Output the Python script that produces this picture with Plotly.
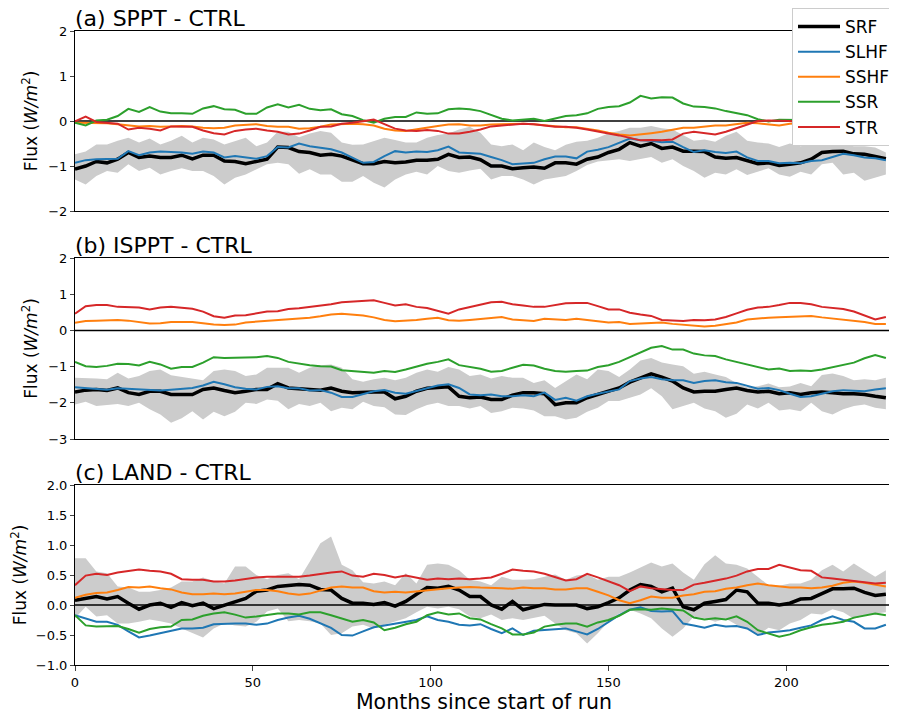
import plotly.graph_objects as go
from plotly.subplots import make_subplots

# months since start of run (sampled every 3 months)
months = list(range(0, 229, 3))
XMAX = 230

# ---- (a) SPPT - CTRL ----
srf_a = [-1.07, -1.00, -0.90, -0.93, -0.85, -0.70, -0.81, -0.78, -0.81, -0.81, -0.76, -0.84, -0.76, -0.76, -0.89, -0.90, -0.95, -0.89, -0.85, -0.58,
         -0.59, -0.68, -0.70, -0.76, -0.74, -0.78, -0.87, -0.95, -0.95, -0.90, -0.93, -0.91, -0.87, -0.87, -0.85, -0.74, -0.81, -0.80, -0.86,
         -1.00, -1.00, -1.06, -1.04, -1.02, -1.05, -0.93, -0.93, -0.96, -0.85, -0.80, -0.70, -0.63, -0.48, -0.56, -0.50, -0.61, -0.58, -0.67,
         -0.67, -0.68, -0.80, -0.83, -0.81, -0.87, -0.95, -0.93, -0.99, -0.96, -0.93, -0.85, -0.70, -0.68, -0.67, -0.73, -0.74, -0.79, -0.84]
slhf_a = [-0.93, -0.87, -0.85, -0.85, -0.84, -0.67, -0.76, -0.70, -0.68, -0.69, -0.70, -0.73, -0.68, -0.70, -0.81, -0.78, -0.81, -0.84, -0.78, -0.58,
          -0.59, -0.50, -0.56, -0.59, -0.63, -0.70, -0.81, -0.93, -0.91, -0.78, -0.67, -0.70, -0.68, -0.69, -0.65, -0.57, -0.70, -0.71, -0.73,
          -0.80, -0.87, -0.96, -0.95, -0.93, -0.85, -0.79, -0.79, -0.83, -0.68, -0.64, -0.58, -0.48, -0.39, -0.43, -0.44, -0.47, -0.46, -0.58,
          -0.69, -0.65, -0.69, -0.71, -0.68, -0.81, -0.89, -0.89, -0.94, -0.93, -0.94, -0.89, -0.87, -0.80, -0.73, -0.76, -0.81, -0.83, -0.87]
sshf_a = [-0.04, -0.04, -0.05, -0.05, -0.07, -0.10, -0.12, -0.11, -0.13, -0.12, -0.11, -0.12, -0.15, -0.16, -0.15, -0.10, -0.08, -0.07, -0.11, -0.13,
          -0.13, -0.17, -0.16, -0.13, -0.08, -0.07, -0.06, -0.07, -0.10, -0.17, -0.21, -0.22, -0.18, -0.15, -0.11, -0.08, -0.07, -0.10, -0.10,
          -0.08, -0.07, -0.06, -0.06, -0.07, -0.09, -0.12, -0.14, -0.14, -0.17, -0.21, -0.26, -0.30, -0.32, -0.30, -0.27, -0.24, -0.20, -0.15,
          -0.15, -0.13, -0.10, -0.10, -0.07, -0.04, -0.05, -0.07, -0.10, -0.06, -0.05, -0.04, -0.06, -0.05, -0.04, -0.05, -0.06, -0.05, -0.04]
ssr_a = [-0.04, -0.10, 0.01, 0.03, 0.11, 0.27, 0.20, 0.31, 0.21, 0.17, 0.17, 0.16, 0.28, 0.33, 0.26, 0.25, 0.16, 0.16, 0.30, 0.37,
         0.30, 0.36, 0.27, 0.24, 0.26, 0.15, 0.11, 0.02, -0.04, 0.05, 0.09, 0.09, 0.19, 0.16, 0.17, 0.26, 0.28, 0.26, 0.22,
         0.13, 0.05, 0.01, 0.03, 0.05, 0.00, 0.06, 0.11, 0.13, 0.17, 0.27, 0.31, 0.33, 0.41, 0.56, 0.50, 0.53, 0.52, 0.39,
         0.32, 0.31, 0.28, 0.22, 0.18, 0.13, 0.04, -0.01, 0.03, 0.03, 0.02, 0.00, -0.02, 0.00, 0.02, 0.03, 0.01, 0.00, 0.01]
str_a = [-0.01, 0.10, -0.02, -0.04, -0.06, -0.19, -0.15, -0.17, -0.21, -0.12, -0.13, -0.13, -0.21, -0.27, -0.30, -0.22, -0.19, -0.17, -0.21, -0.24,
         -0.30, -0.28, -0.21, -0.13, -0.12, -0.06, -0.04, -0.01, 0.03, -0.07, -0.17, -0.21, -0.22, -0.20, -0.22, -0.28, -0.28, -0.24, -0.19,
         -0.12, -0.10, -0.07, -0.06, -0.07, -0.10, -0.13, -0.13, -0.15, -0.19, -0.24, -0.28, -0.32, -0.37, -0.43, -0.42, -0.43, -0.41, -0.28,
         -0.24, -0.27, -0.30, -0.24, -0.16, -0.07, 0.00, 0.01, 0.01, 0.00, -0.02, -0.03, -0.01, -0.02, -0.03, -0.02, -0.04, -0.03, -0.02]
hi_a = [-0.74, -0.68, -0.52, -0.52, -0.44, -0.37, -0.48, -0.39, -0.52, -0.44, -0.33, -0.48, -0.37, -0.41, -0.52, -0.44, -0.37, -0.56, -0.48, -0.24,
        -0.24, -0.36, -0.28, -0.22, -0.26, -0.48, -0.53, -0.52, -0.44, -0.37, -0.42, -0.48, -0.48, -0.37, -0.31, -0.28, -0.19, -0.13, -0.26,
        -0.52, -0.56, -0.52, -0.65, -0.48, -0.58, -0.65, -0.53, -0.46, -0.44, -0.37, -0.27, -0.22, -0.15, -0.15, -0.11, -0.16, -0.19, -0.31,
        -0.44, -0.41, -0.46, -0.33, -0.24, -0.44, -0.48, -0.50, -0.58, -0.50, -0.56, -0.52, -0.48, -0.48, -0.52, -0.56, -0.56, -0.59, -0.70]
lo_a = [-1.30, -1.41, -1.22, -1.11, -1.15, -0.96, -1.11, -1.04, -1.19, -1.11, -1.05, -1.11, -1.11, -1.22, -1.41, -1.26, -1.19, -1.07, -0.96, -0.93,
        -0.96, -1.17, -1.07, -1.19, -1.19, -1.35, -1.35, -1.22, -1.37, -1.48, -1.30, -1.19, -1.13, -1.19, -1.00, -1.11, -1.15, -1.10, -1.06,
        -1.30, -1.22, -1.22, -1.30, -1.41, -1.30, -1.26, -1.22, -1.11, -0.98, -0.90, -0.87, -0.85, -0.89, -0.85, -0.80, -0.93, -0.85, -1.00,
        -1.11, -1.26, -1.15, -1.19, -1.07, -1.20, -1.13, -1.05, -1.19, -1.24, -1.13, -1.19, -0.96, -0.93, -1.19, -1.15, -1.33, -1.26, -1.19]

# ---- (b) ISPPT - CTRL ----
srf_b = [-1.70, -1.65, -1.63, -1.66, -1.59, -1.72, -1.77, -1.68, -1.68, -1.77, -1.77, -1.77, -1.63, -1.59, -1.66, -1.72, -1.68, -1.63, -1.63, -1.47,
         -1.59, -1.61, -1.63, -1.65, -1.59, -1.68, -1.72, -1.70, -1.70, -1.70, -1.89, -1.82, -1.68, -1.60, -1.57, -1.56, -1.82, -1.86, -1.84,
         -1.91, -1.91, -1.79, -1.72, -1.72, -1.75, -2.05, -2.00, -2.00, -1.86, -1.77, -1.68, -1.59, -1.43, -1.31, -1.20, -1.29, -1.40, -1.59,
         -1.70, -1.68, -1.68, -1.63, -1.59, -1.66, -1.70, -1.68, -1.75, -1.72, -1.77, -1.72, -1.70, -1.72, -1.75, -1.75, -1.77, -1.82, -1.86]
slhf_b = [-1.57, -1.59, -1.61, -1.64, -1.60, -1.61, -1.63, -1.63, -1.66, -1.64, -1.61, -1.59, -1.52, -1.42, -1.49, -1.57, -1.61, -1.63, -1.56, -1.54,
          -1.60, -1.60, -1.66, -1.65, -1.72, -1.84, -1.84, -1.77, -1.68, -1.65, -1.72, -1.75, -1.68, -1.59, -1.52, -1.49, -1.59, -1.77, -1.79,
          -1.77, -1.82, -1.82, -1.79, -1.82, -1.72, -1.92, -1.86, -1.94, -1.82, -1.75, -1.70, -1.63, -1.40, -1.33, -1.29, -1.35, -1.38, -1.38,
          -1.45, -1.40, -1.38, -1.43, -1.45, -1.54, -1.61, -1.59, -1.65, -1.75, -1.84, -1.82, -1.75, -1.68, -1.65, -1.66, -1.68, -1.63, -1.60]
sshf_b = [0.21, 0.26, 0.27, 0.28, 0.29, 0.27, 0.22, 0.19, 0.20, 0.23, 0.23, 0.23, 0.20, 0.16, 0.15, 0.16, 0.22, 0.24, 0.26, 0.28,
          0.29, 0.32, 0.35, 0.39, 0.44, 0.46, 0.44, 0.41, 0.36, 0.29, 0.25, 0.26, 0.29, 0.32, 0.35, 0.28, 0.27, 0.29, 0.32,
          0.35, 0.37, 0.30, 0.29, 0.26, 0.32, 0.30, 0.29, 0.32, 0.29, 0.24, 0.22, 0.23, 0.18, 0.19, 0.21, 0.22, 0.18, 0.15,
          0.14, 0.11, 0.13, 0.17, 0.22, 0.30, 0.33, 0.35, 0.36, 0.38, 0.40, 0.40, 0.36, 0.33, 0.29, 0.26, 0.23, 0.18, 0.18]
ssr_b = [-0.87, -0.99, -1.01, -0.98, -0.92, -0.93, -0.97, -0.87, -0.94, -1.06, -1.01, -1.01, -0.89, -0.74, -0.76, -0.76, -0.76, -0.74, -0.71, -0.76,
         -0.87, -0.92, -0.96, -0.99, -1.00, -1.10, -1.12, -1.16, -1.17, -1.12, -1.15, -1.08, -0.99, -0.92, -0.87, -0.80, -0.96, -1.00, -1.06,
         -1.14, -1.12, -1.03, -0.95, -0.97, -1.06, -1.12, -1.14, -1.12, -1.11, -1.01, -0.96, -0.87, -0.74, -0.60, -0.48, -0.43, -0.53, -0.53,
         -0.64, -0.69, -0.71, -0.80, -0.87, -0.94, -1.01, -1.08, -1.05, -1.12, -1.11, -1.12, -1.08, -1.01, -0.94, -0.89, -0.77, -0.68, -0.76]
str_b = [0.46, 0.67, 0.70, 0.70, 0.65, 0.65, 0.63, 0.58, 0.63, 0.65, 0.63, 0.60, 0.52, 0.39, 0.35, 0.41, 0.42, 0.46, 0.52, 0.53,
         0.59, 0.61, 0.65, 0.67, 0.72, 0.78, 0.80, 0.81, 0.83, 0.76, 0.69, 0.72, 0.65, 0.62, 0.55, 0.46, 0.58, 0.65, 0.72,
         0.78, 0.79, 0.72, 0.69, 0.65, 0.65, 0.69, 0.75, 0.76, 0.76, 0.67, 0.58, 0.58, 0.49, 0.44, 0.40, 0.29, 0.28, 0.26,
         0.29, 0.28, 0.30, 0.37, 0.47, 0.57, 0.63, 0.65, 0.70, 0.76, 0.76, 0.72, 0.65, 0.61, 0.59, 0.52, 0.41, 0.30, 0.37]
hi_b = [-1.31, -1.31, -1.33, -1.35, -1.17, -1.33, -1.26, -1.12, -1.08, -1.24, -1.29, -1.35, -1.38, -1.12, -1.08, -1.12, -1.26, -1.22, -1.03, -1.03,
        -1.03, -1.17, -1.03, -0.96, -0.94, -1.03, -1.35, -1.42, -1.35, -1.31, -1.38, -1.31, -1.17, -1.08, -1.14, -1.01, -1.08, -1.26, -1.22,
        -1.33, -1.26, -1.31, -1.31, -1.45, -1.38, -1.59, -1.40, -1.22, -1.35, -1.08, -1.12, -1.29, -1.08, -0.83, -0.76, -0.89, -0.94, -0.99,
        -1.20, -1.14, -1.22, -1.29, -1.45, -1.57, -1.54, -1.47, -1.57, -1.55, -1.45, -1.54, -1.23, -1.19, -1.26, -1.38, -1.35, -1.38, -1.31]
lo_b = [-2.05, -1.97, -2.09, -2.05, -2.03, -2.09, -2.00, -2.18, -2.32, -2.55, -2.43, -2.23, -2.46, -2.25, -2.37, -2.25, -2.00, -2.03, -1.91, -1.94,
        -2.18, -2.03, -2.09, -2.00, -2.23, -2.14, -2.18, -1.97, -2.09, -2.12, -2.32, -2.34, -2.18, -2.06, -2.00, -2.09, -2.09, -2.16, -2.09,
        -2.28, -2.23, -2.14, -2.16, -2.21, -2.37, -2.37, -2.46, -2.41, -2.25, -2.14, -1.95, -1.95, -1.86, -1.77, -1.60, -1.82, -2.18, -2.09,
        -2.00, -2.16, -2.23, -2.41, -2.30, -2.05, -2.16, -2.00, -2.21, -2.18, -2.23, -2.00, -2.23, -2.32, -2.18, -2.09, -2.05, -2.14, -2.18]

# ---- (c) LAND - CTRL ----
srf_c = [0.08, 0.11, 0.14, 0.10, 0.14, 0.03, -0.07, 0.00, 0.03, -0.04, 0.04, -0.01, 0.03, -0.06, 0.00, 0.06, 0.11, 0.23, 0.25, 0.31,
         0.33, 0.34, 0.33, 0.26, 0.25, 0.11, 0.03, 0.03, 0.01, 0.04, -0.02, 0.06, 0.18, 0.29, 0.28, 0.31, 0.25, 0.14, 0.14,
         0.00, -0.07, 0.06, -0.08, -0.03, 0.01, 0.00, 0.00, 0.00, -0.06, -0.03, 0.04, 0.12, 0.25, 0.34, 0.31, 0.22, 0.28, -0.03,
         -0.08, 0.03, 0.06, 0.09, 0.25, 0.22, 0.03, 0.03, 0.00, 0.03, 0.10, 0.11, 0.19, 0.27, 0.27, 0.28, 0.21, 0.16, 0.18]
slhf_c = [-0.17, -0.23, -0.28, -0.28, -0.33, -0.44, -0.54, -0.51, -0.47, -0.43, -0.39, -0.39, -0.38, -0.32, -0.31, -0.31, -0.31, -0.33, -0.31, -0.25,
          -0.21, -0.18, -0.23, -0.31, -0.38, -0.50, -0.51, -0.44, -0.37, -0.34, -0.31, -0.28, -0.25, -0.19, -0.25, -0.28, -0.33, -0.34, -0.32,
          -0.40, -0.47, -0.39, -0.50, -0.43, -0.42, -0.40, -0.39, -0.44, -0.49, -0.40, -0.28, -0.17, -0.08, -0.04, -0.10, -0.11, -0.10, -0.31,
          -0.34, -0.38, -0.33, -0.36, -0.35, -0.39, -0.50, -0.46, -0.44, -0.42, -0.38, -0.34, -0.25, -0.19, -0.25, -0.28, -0.39, -0.39, -0.33]
sshf_c = [0.12, 0.17, 0.20, 0.21, 0.25, 0.30, 0.29, 0.31, 0.28, 0.26, 0.21, 0.18, 0.18, 0.19, 0.18, 0.19, 0.22, 0.25, 0.25, 0.23,
          0.19, 0.17, 0.19, 0.24, 0.29, 0.31, 0.29, 0.29, 0.23, 0.21, 0.22, 0.21, 0.23, 0.24, 0.27, 0.28, 0.29, 0.30, 0.29,
          0.29, 0.28, 0.27, 0.29, 0.28, 0.28, 0.26, 0.26, 0.28, 0.28, 0.22, 0.16, 0.08, 0.03, 0.08, 0.14, 0.12, 0.12, 0.16,
          0.18, 0.22, 0.23, 0.27, 0.29, 0.33, 0.36, 0.33, 0.31, 0.29, 0.29, 0.28, 0.29, 0.32, 0.37, 0.39, 0.37, 0.34, 0.31]
ssr_c = [-0.17, -0.34, -0.36, -0.36, -0.35, -0.40, -0.46, -0.40, -0.37, -0.36, -0.25, -0.24, -0.18, -0.14, -0.12, -0.16, -0.21, -0.19, -0.16, -0.14,
         -0.14, -0.16, -0.12, -0.12, -0.17, -0.22, -0.28, -0.25, -0.29, -0.42, -0.38, -0.32, -0.28, -0.17, -0.12, -0.16, -0.14, -0.22, -0.24,
         -0.32, -0.39, -0.49, -0.49, -0.46, -0.36, -0.33, -0.31, -0.31, -0.36, -0.29, -0.25, -0.18, -0.08, -0.07, -0.08, -0.06, -0.07, -0.09,
         -0.21, -0.24, -0.22, -0.24, -0.19, -0.28, -0.42, -0.47, -0.53, -0.49, -0.42, -0.37, -0.33, -0.31, -0.28, -0.21, -0.18, -0.14, -0.17]
str_c = [0.33, 0.49, 0.52, 0.50, 0.54, 0.56, 0.59, 0.57, 0.56, 0.52, 0.43, 0.42, 0.42, 0.39, 0.39, 0.41, 0.44, 0.46, 0.47, 0.47,
         0.46, 0.47, 0.49, 0.52, 0.54, 0.56, 0.49, 0.47, 0.52, 0.50, 0.46, 0.49, 0.46, 0.42, 0.44, 0.43, 0.44, 0.43, 0.44,
         0.46, 0.52, 0.59, 0.57, 0.56, 0.52, 0.46, 0.41, 0.43, 0.52, 0.46, 0.39, 0.33, 0.23, 0.31, 0.28, 0.26, 0.25, 0.25,
         0.34, 0.37, 0.40, 0.44, 0.49, 0.56, 0.60, 0.60, 0.67, 0.63, 0.58, 0.57, 0.46, 0.44, 0.42, 0.40, 0.39, 0.36, 0.37]
hi_c = [0.78, 0.78, 0.56, 0.53, 0.31, 0.29, 0.22, 0.22, 0.25, 0.29, 0.39, 0.39, 0.46, 0.40, 0.36, 0.64, 0.64, 0.50, 0.43, 0.50,
        0.53, 0.43, 0.72, 1.03, 1.14, 0.67, 0.58, 0.38, 0.36, 0.39, 0.33, 0.53, 0.36, 0.67, 0.69, 0.67, 0.58, 0.42, 0.39,
        0.33, 0.47, 0.42, 0.42, 0.43, 0.47, 0.51, 0.42, 0.49, 0.51, 0.42, 0.47, 0.47, 0.54, 0.62, 0.71, 0.64, 0.69, 0.54,
        0.42, 0.68, 0.83, 0.69, 0.67, 0.61, 0.47, 0.33, 0.32, 0.36, 0.36, 0.42, 0.58, 0.67, 0.56, 0.69, 0.58, 0.47, 0.58]
lo_c = [-0.22, -0.03, -0.19, -0.17, -0.31, -0.31, -0.28, -0.24, -0.27, -0.31, -0.39, -0.47, -0.54, -0.39, -0.31, -0.34, -0.36, -0.28, -0.11, -0.06,
        -0.27, -0.25, -0.27, -0.31, -0.50, -0.47, -0.36, -0.33, -0.39, -0.33, -0.28, -0.22, -0.12, -0.03, -0.06, -0.03, -0.07, -0.19, -0.22,
        -0.16, -0.25, -0.22, -0.25, -0.22, -0.18, -0.31, -0.42, -0.47, -0.64, -0.47, -0.28, -0.14, -0.08, -0.14, -0.22, -0.39, -0.53, -0.39,
        -0.19, -0.22, -0.28, -0.23, -0.33, -0.40, -0.50, -0.38, -0.42, -0.31, -0.25, -0.14, -0.16, -0.07, -0.12, -0.23, -0.17, -0.14, -0.12]

series_names = ["SRF", "SLHF", "SSHF", "SSR", "STR"]
colors = ["black", "#1f77b4", "#ff7f0e", "#2ca02c", "#d62728"]
widths = [3.5, 2, 2, 2, 2]

panels = [
    ("(a) SPPT - CTRL", [srf_a, slhf_a, sshf_a, ssr_a, str_a], lo_a, hi_a, [-2, 2], [-2, -1, 0, 1, 2]),
    ("(b) ISPPT - CTRL", [srf_b, slhf_b, sshf_b, ssr_b, str_b], lo_b, hi_b, [-3, 2], [-3, -2, -1, 0, 1, 2]),
    ("(c) LAND - CTRL", [srf_c, slhf_c, sshf_c, ssr_c, str_c], lo_c, hi_c, [-1, 2],
     [-1.0, -0.5, 0.0, 0.5, 1.0, 1.5, 2.0]),
]

# page body has an 8px margin, so the figure is sized to fill the rest of the window
OFF = 8
W, H = 897 - OFF, 715 - OFF
xdom = [(75 - OFF) / W, (893 - OFF) / W]
ydoms = [[1 - (211 - OFF) / H, 1 - (31 - OFF) / H],
         [1 - (439 - OFF) / H, 1 - (258 - OFF) / H],
         [1 - (665 - OFF) / H, 1 - (485 - OFF) / H]]

FONT = "DejaVu Sans, Liberation Sans, sans-serif"

fig = make_subplots(rows=3, cols=1)

for i, (title, vals, lo, hi, yr, yt) in enumerate(panels):
    row = i + 1
    # ensemble spread band
    fig.add_trace(go.Scatter(x=months, y=lo, mode="lines", line=dict(width=0),
                             showlegend=False, hoverinfo="skip"), row=row, col=1)
    fig.add_trace(go.Scatter(x=months, y=hi, mode="lines", line=dict(width=0),
                             fill="tonexty", fillcolor="#cccccc",
                             showlegend=False, hoverinfo="skip"), row=row, col=1)
    # zero line
    fig.add_trace(go.Scatter(x=[0, XMAX], y=[0, 0], mode="lines",
                             line=dict(color="black", width=1.5),
                             showlegend=False, hoverinfo="skip"), row=row, col=1)
    for name, v, c, w in zip(series_names, vals, colors, widths):
        fig.add_trace(go.Scatter(x=months, y=v, mode="lines", name=name,
                                 line=dict(color=c, width=w),
                                 showlegend=(i == 0)), row=row, col=1)

    xa = "xaxis" if i == 0 else f"xaxis{row}"
    ya = "yaxis" if i == 0 else f"yaxis{row}"
    fig.layout[xa].update(
        domain=xdom, range=[0, XMAX], showgrid=False, zeroline=False, automargin=False,
        showline=True, linecolor="black", linewidth=1, mirror=True,
        ticks="outside" if i == 2 else "", tickvals=[0, 50, 100, 150, 200],
        showticklabels=(i == 2), tickfont=dict(size=13, color="black"),
    )
    fig.layout[ya].update(
        domain=ydoms[i], range=yr, showgrid=False, zeroline=False, automargin=False,
        showline=True, linecolor="black", linewidth=1, mirror=True,
        ticks="outside", ticklen=4, tickvals=yt,
        tickformat=".1f" if i == 2 else "d",
        tickfont=dict(size=13, color="black"),
        title=dict(text="Flux (<i>W/m</i><sup>2</sup>)", font=dict(size=17, color="black"),
                   standoff=6),
    )
    fig.add_annotation(text=title, x=xdom[0], y=ydoms[i][1], xref="paper", yref="paper",
                       xanchor="left", yanchor="bottom", showarrow=False, yshift=-2, xshift=-2,
                       font=dict(size=22, color="black"))

fig.layout["xaxis3"].update(title=dict(text="Months since start of run",
                                       font=dict(size=20.5, color="black"), standoff=4))

fig.update_layout(
    width=W, height=H,
    margin=dict(l=0, r=0, t=0, b=0, autoexpand=False),
    plot_bgcolor="white", paper_bgcolor="white",
    font=dict(family=FONT, color="black"),
    legend=dict(x=(792 - OFF) / W, y=1.0, xanchor="left", yanchor="top", traceorder="normal",
                bgcolor="white", bordercolor="#cccccc", borderwidth=1, itemwidth=42,
                font=dict(size=17), tracegroupgap=0),
)

fig.write_html("out.html")
